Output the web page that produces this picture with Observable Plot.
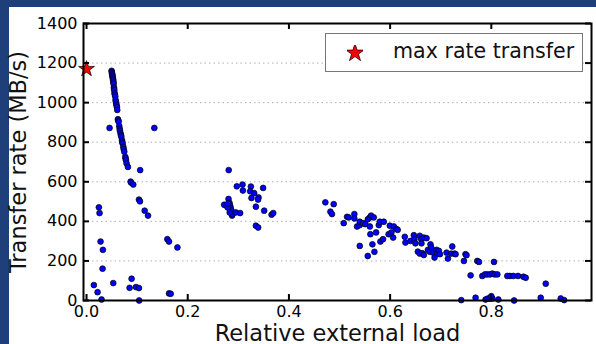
<!DOCTYPE html>
<html><head><meta charset="utf-8">
<script src="https://cdn.jsdelivr.net/npm/d3@7"></script>
<script src="https://cdn.jsdelivr.net/npm/@observablehq/plot@0.6"></script>
<style>
html,body{margin:0;padding:0;background:#1f3f7a;width:596px;height:344px;overflow:hidden;}
#panel{position:absolute;left:9px;top:7px;width:587px;height:337px;background:#fff;}
#chart{position:absolute;left:0;top:0;}
#legend{position:absolute;left:325px;top:33px;width:256px;height:37px;border:1px solid #777;background:#fff;font-family:"DejaVu Sans";font-size:20.6px;color:#111;}
#legend svg{position:absolute;left:21px;top:11px;}
#legend span{position:absolute;left:67px;top:5px;white-space:nowrap;}
</style></head>
<body>
<div id="panel"></div>
<div id="chart"></div>
<div id="legend"><svg width="16" height="16" viewBox="-8 -8 16 16"><path id="lstar" fill="red" stroke="black" stroke-width="0.7"></path></svg><span>max rate transfer</span></div>
<script>
const loadValues = [
0.0495,0.0500,0.0505,0.0508,0.0512,0.0515,0.0521,0.0524,0.0528,0.0532,0.0535,0.0541,0.0545,0.0548,0.0554,0.0560,0.0568,0.0574,0.0580,0.0587,0.0595,0.0601,0.0607,0.0620,0.0627,0.0634,0.0647,0.0655,0.0660,0.0673,0.0680,0.0687,0.0700,0.0706,0.0713,0.0726,0.0735,0.0746,0.0766,0.0772,0.0779,0.0792,0.0818,
0.0455,0.134,0.106,0.0871,0.0880,0.0924,0.1036,0.1056,0.1149,0.1215,0.1597,0.163,0.1796,0.0244,0.0257,0.0277,0.0323,0.0317,0.0145,0.0218,0.0297,0.0528,0.0851,0.0891,0.0977,0.1036,0.163,0.1663,0.104,
0.281,0.272,0.2766,0.2806,0.2826,0.2838,0.2851,0.2865,0.2877,0.2885,0.295,0.3036,0.297,0.3083,0.309,0.3248,0.3234,0.3313,0.326,0.3399,0.339,0.349,0.3347,0.3511,0.3347,0.3392,0.3657,0.369,0.279,0.283,0.280,
0.472,0.4885,0.482,0.4851,0.5083,0.5149,0.518,0.5293,0.5293,0.5347,0.54,0.54,0.5466,0.551,0.556,0.560,0.5624,0.5677,0.560,0.561,0.5723,0.5776,0.5796,0.5875,0.5808,0.586,0.565,0.569,0.5558,0.540,0.5994,0.6073,0.6125,0.597,0.6026,0.606,0.615,0.629,0.6303,0.6402,0.6469,0.648,0.650,0.6587,0.6614,0.662,0.6667,0.672,0.6548,0.6587,0.6634,0.6667,0.6746,0.6798,0.6812,0.6786,0.6851,0.6917,0.693,0.6964,0.6878,0.6984,0.7115,0.7142,0.7208,0.7228,0.7274,0.7294,0.7459,0.749,0.751,0.7591,0.7723,0.7756,0.8053,0.7822,0.7875,0.7921,0.7974,0.802,0.8066,0.8119,0.8317,0.837,0.8436,0.8528,0.8634,0.868,0.9076,
0.7406,0.7689,0.7887,0.7934,0.7974,0.802,0.800,0.8139,0.845,0.8977,0.9372,0.944
];
const rateValues = [
1161,1155,1148,1142,1136,1130,1124,1117,1111,1102,1095,1078,1070,1062,1048,1040,1031,1014,1004,994,985,977,963,916,910,904,882,868,858,845,836,828,811,802,794,777,765,752,726,718,709,693,675,
872,872,659,601,596,586,510,501,454,429,310,298,268,471,442,298,256,161,78,42,5,88,64,110,68,63,36,34,0,
659,484,479,513,493,479,467,454,429,437,445,442,577,586,556,576,552,543,518,521,510,569,474,454,378,369,434,442,470,445,490,
496,487,449,437,391,423,420,437,415,374,381,398,391,386,411,420,429,420,374,335,344,381,398,398,298,310,284,246,225,276,378,374,361,335,344,318,357,322,293,301,330,310,289,327,310,289,318,315,247,237,239,230,256,284,268,246,242,256,237,251,217,234,242,212,237,273,237,234,200,234,229,127,200,195,195,124,132,132,132,136,132,132,124,124,124,124,120,115,85,
2,14,5,10,10,10,22,5,0,14,10,2
];
const maxLoad = [0.0];
const maxRate = [1170];
const xTicks = [0, 0.2, 0.4, 0.6, 0.8];
const yTicks = [0, 200, 400, 600, 800, 1000, 1200, 1400];
const gridTicks = [200, 400, 600, 800, 1000, 1200];
const xLabel = "Relative external load";
const yLabel = "Transfer rate (MB/s)";
const legendLabel = "max rate transfer";

const points = loadValues.map((x, i) => ({x, y: rateValues[i]}));
const star = maxLoad.map((x, i) => ({x, y: maxRate[i]}));

const W = 596, H = 344, ML = 83, MR = 5, MT = 23, MB = 44;
const FW = W - ML - MR, FH = H - MT - MB, TL = 6;

const chart = Plot.plot({
  width: W, height: H,
  marginLeft: ML, marginRight: MR, marginTop: MT, marginBottom: MB,
  style: {background: "transparent", fontFamily: "DejaVu Sans", color: "black"},
  x: {domain: [-0.006, 0.998]},
  y: {domain: [0, 1400]},
  marks: [
    Plot.gridY(gridTicks, {stroke: "#b0b0b0", strokeOpacity: 1, strokeDasharray: "1.5,3", strokeWidth: 1}),
    Plot.dot(points, {x: "x", y: "y", r: 2.9, fill: "#0000ff", stroke: "black", strokeWidth: 0.7}),
    Plot.dot(star, {x: "x", y: "y", symbol: "star", r: 5, fill: "red", stroke: "black", strokeWidth: 0.7}),
    Plot.frame({stroke: "black", strokeWidth: 2}),
    Plot.tickY(yTicks, {y: d => d, insetRight: FW - TL, stroke: "black", strokeWidth: 2}),
    Plot.tickY(yTicks, {y: d => d, insetLeft: FW - TL, stroke: "black", strokeWidth: 2}),
    Plot.tickX(xTicks, {x: d => d, insetTop: FH - TL, stroke: "black", strokeWidth: 2}),
    Plot.tickX(xTicks, {x: d => d, insetBottom: FH - TL, stroke: "black", strokeWidth: 2}),
    Plot.axisY(yTicks, {anchor: "left", tickSize: 0, tickPadding: 6, fontSize: 16, tickFormat: d3.format("d"), label: null}),
    Plot.axisX(xTicks, {anchor: "bottom", tickSize: 0, tickPadding: 5, fontSize: 16, tickFormat: d3.format(".1f"), label: null}),
    Plot.text([yLabel], {text: d => d, frameAnchor: "left", textAnchor: "middle", rotate: -90, dx: -65, fontSize: 22.5, fill: "#111"}),
    Plot.text([xLabel], {text: d => d, frameAnchor: "bottom", dy: 40, fontSize: 22.5, fill: "#111"})
  ]
});
document.getElementById("chart").appendChild(chart);
document.getElementById("lstar").setAttribute("d", d3.symbol(d3.symbolStar, 100)());
document.querySelector("#legend span").textContent = legendLabel;
</script>
</body></html>
